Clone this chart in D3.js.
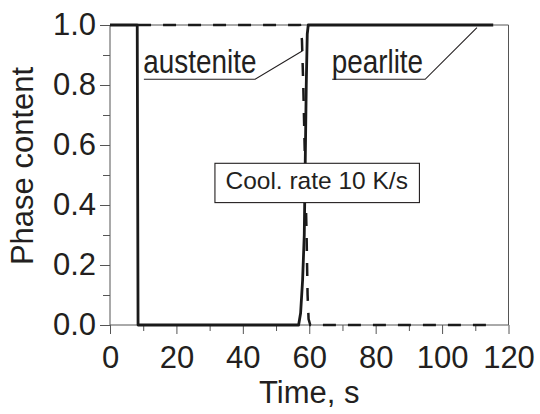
<!DOCTYPE html>
<html><head><meta charset="utf-8">
<script src="https://cdn.jsdelivr.net/npm/d3@7/dist/d3.min.js"></script>
<style>
html,body{margin:0;padding:0;background:#fff;}
svg{display:block;}
text{font-family:"Liberation Sans",Arial,Helvetica,sans-serif;fill:#231f20;}
</style></head>
<body>
<svg id="chart" width="540" height="414"></svg>
<script>
// ---- data ----
const pearliteTime  = [0, 8.2, 8.45, 56.8, 57.4, 58.0, 58.5, 58.8, 59.1, 59.4, 59.7, 115.4];
const pearliteValue = [1, 1,   0,    0,    0.04, 0.15, 0.30, 0.55, 0.80, 0.97, 1,    1];
const austeniteTime  = [8.45, 57.2, 57.8, 58.2, 58.7, 59.2, 59.5, 59.8, 60.3, 115.2];
const austeniteValue = [1,    1,    0.95, 0.80, 0.55, 0.30, 0.10, 0.02, 0,    0];
const xMajorTicks = [0, 20, 40, 60, 80, 100, 120];
const xMinorTicks = [10, 30, 50, 70, 90, 110];
const yMajorTicks = [0, 0.2, 0.4, 0.6, 0.8, 1.0];
const yMinorTicks = [0.1, 0.3, 0.5, 0.7, 0.9];
const xTitle = "Time, s";
const yTitle = "Phase content";
const boxLabel = "Cool. rate 10 K/s";
// annotations: [label, textX, baselineY, underlineY, underlineEndX, pointerX, pointerY]
const annAustenite = ["austenite", 10.5, 0.839, 0.819, 43.7, 58.0, 0.914];
const annPearlite  = ["pearlite", 67.2, 0.839, 0.819, 94.9, 110.5, 0.991];
const boxPos = [31.6, 0.539, 0.408]; // left x, top y, bottom y (data units)

// ---- scales ----
const x = d3.scaleLinear().domain([0, 120]).range([110, 508.5]);
const y = d3.scaleLinear().domain([0, 1]).range([325, 25]);
const svg = d3.select("#chart");
const axisColor = "#555";

// frame (top & right)
svg.append("path")
  .attr("d", `M${x(0)},${y(1)}H${x(120)}V${y(0)}`)
  .attr("fill", "none").attr("stroke", axisColor).attr("stroke-width", 1);

// axes
const fmtY = d3.format(".1f");
const gx = svg.append("g").attr("transform", `translate(0,${y(0)})`)
  .call(d3.axisBottom(x).tickValues(xMajorTicks).tickSize(9).tickPadding(12).tickFormat(d3.format("d")));
const gxm = svg.append("g").attr("transform", `translate(0,${y(0)})`)
  .call(d3.axisBottom(x).tickValues(xMinorTicks).tickSize(6).tickFormat(""));
const gy = svg.append("g").attr("transform", `translate(${x(0)},0)`)
  .call(d3.axisLeft(y).tickValues(yMajorTicks).tickSize(10).tickPadding(4).tickFormat(fmtY));
const gym = svg.append("g").attr("transform", `translate(${x(0)},0)`)
  .call(d3.axisLeft(y).tickValues(yMinorTicks).tickSize(7).tickFormat(""));
[gx, gxm, gy, gym].forEach(g => {
  g.select(".domain").attr("stroke", axisColor).attr("stroke-width", 1);
  g.selectAll(".tick line").attr("stroke", axisColor).attr("stroke-width", 1);
  g.selectAll(".tick text").attr("font-size", 31).attr("font-family", null).style("fill", "#231f20");
});
gy.select(".domain").attr("d", `M0,${y(1)}V${y(0)}`);
gx.select(".domain").attr("d", `M${x(0)},0H${x(120)}`);
gxm.select(".domain").remove(); gym.select(".domain").remove();

// titles
svg.append("text").attr("x", (x(0) + x(120)) / 2).attr("y", 403)
  .attr("text-anchor", "middle").attr("font-size", 31).text(xTitle);
svg.append("text").attr("transform", "translate(33,166) rotate(-90)")
  .attr("text-anchor", "middle").attr("font-size", 31).text(yTitle);

// data lines
const line = d3.line().x(d => x(d[0])).y(d => y(d[1]));
svg.append("path").datum(austeniteTime.map((t, i) => [t, austeniteValue[i]]))
  .attr("d", line).attr("fill", "none").attr("stroke", "#1a1a1a")
  .attr("stroke-width", 2.5).attr("stroke-dasharray", "13,12");
svg.append("path").datum(pearliteTime.map((t, i) => [t, pearliteValue[i]]))
  .attr("d", line).attr("fill", "none").attr("stroke", "#1a1a1a")
  .attr("stroke-width", 2.8).attr("stroke-linejoin", "round");

// annotations
[annAustenite, annPearlite].forEach(a => {
  const [label, tx, by, uy, ux, px, py] = a;
  svg.append("path")
    .attr("d", `M${x(tx) - 1},${y(uy)}H${x(ux)}L${x(px)},${y(py)}`)
    .attr("fill", "none").attr("stroke", "#231f20").attr("stroke-width", 1.1);
  svg.append("g").attr("transform", `translate(${x(tx) - 1.5},${y(by)}) scale(0.82,1)`)
    .append("text").attr("font-size", 34).text(label);
});

// box
const boxG = svg.append("g");
const rect = boxG.append("rect");
const bt = boxG.append("text").attr("x", x(boxPos[0]) + 10.5).attr("y", 189.3)
  .attr("font-size", 24.5).text(boxLabel);
const w = bt.node().getComputedTextLength();
rect.attr("x", x(boxPos[0])).attr("y", y(boxPos[1]))
  .attr("width", w + 22).attr("height", y(boxPos[2]) - y(boxPos[1]))
  .attr("fill", "#fff").attr("stroke", "#231f20").attr("stroke-width", 1.1);
</script>
</body></html>
